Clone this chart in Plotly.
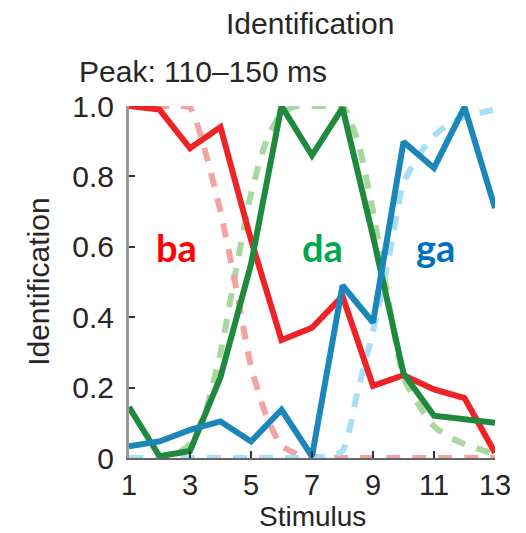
import plotly.graph_objects as go

# Stimulus steps
stimulus = [1, 2, 3, 4, 5, 6, 7, 8, 9, 10, 11, 12, 13]

# Measured identification proportions
ba = [1.0, 0.99, 0.88, 0.94, 0.62, 0.335, 0.37, 0.46, 0.205, 0.235, 0.195, 0.17, 0.015]
da = [0.145, 0.005, 0.02, 0.23, 0.55, 1.0, 0.86, 0.995, 0.63, 0.24, 0.12, 0.11, 0.10]
ga = [0.033, 0.047, 0.08, 0.104, 0.047, 0.137, 0.005, 0.49, 0.385, 0.898, 0.824, 0.997, 0.71]

# Fitted curves (read at half-steps)
fit_x = [1, 1.5, 2, 2.5, 3, 3.5, 4, 4.5, 5, 5.5, 6, 6.5, 7, 7.5, 8, 8.5, 9, 9.5, 10, 10.5, 11, 11.5, 12, 12.5, 13]
fit_ba = [1.0, 1.0, 1.0, 1.0, 0.995, 0.87, 0.70, 0.49, 0.26, 0.12, 0.035, 0.012, 0.004, 0.0, 0.0, 0.0, 0.0, 0.0, 0.0, 0.0, 0.0, 0.0, 0.0, 0.0, 0.0]
fit_da = [0.0, 0.0, 0.0, 0.01, 0.04, 0.13, 0.30, 0.53, 0.75, 0.90, 0.98, 1.0, 1.0, 1.0, 1.0, 0.90, 0.70, 0.45, 0.23, 0.15, 0.09, 0.06, 0.04, 0.025, 0.01]
fit_ga = [0.0, 0.0, 0.0, 0.0, 0.0, 0.0, 0.0, 0.0, 0.0, 0.0, 0.0, 0.0, 0.0, 0.004, 0.02, 0.19, 0.36, 0.56, 0.78, 0.86, 0.915, 0.95, 0.97, 0.98, 0.99]

x_ticks = [1, 3, 5, 7, 9, 11, 13]
y_ticks = [0, 0.2, 0.4, 0.6, 0.8, 1.0]
y_ticktext = ["0", "0.2", "0.4", "0.6", "0.8", "1.0"]

FONT = "Liberation Sans, Arial, Helvetica, sans-serif"
TXT = "#262626"
FS = 30

fig = go.Figure()

dash = "14px,12px"
for ys, col in [(fit_da, "#a8d89e"), (fit_ba, "#f4a3a3"), (fit_ga, "#a8def6")]:
    fig.add_trace(go.Scatter(x=fit_x, y=ys, mode="lines",
                             line=dict(color=col, width=6, dash=dash, shape="spline", smoothing=0.6),
                             cliponaxis=False, hoverinfo="skip", showlegend=False))

for ys, col in [(ba, "#ee2326"), (da, "#1f8a3d"), (ga, "#1b86b9")]:
    fig.add_trace(go.Scatter(x=stimulus, y=ys, mode="lines",
                             line=dict(color=col, width=6),
                             cliponaxis=False, showlegend=False))

# Category labels
for txt, xx, col in [("ba", 2.55, "#ff0000"), ("da", 7.35, "#00a84f"), ("ga", 11.05, "#0070c0")]:
    fig.add_annotation(x=xx, y=0.6, xref="x", yref="y", text="<b>%s</b>" % txt, showarrow=False,
                       font=dict(family="Lato, Noto Sans, sans-serif", size=38, color=col),
                       xanchor="center", yanchor="middle")

fig.add_annotation(x=0.495, y=1.235, xref="paper", yref="paper", text="Identification",
                   showarrow=False, font=dict(family=FONT, size=FS, color=TXT),
                   xanchor="center", yanchor="middle")
fig.add_annotation(x=-0.142, y=1.099, xref="paper", yref="paper", text="Peak: 110\u2013150 ms",
                   showarrow=False, font=dict(family=FONT, size=FS, color=TXT),
                   xanchor="left", yanchor="middle")
fig.add_annotation(x=-0.249, y=0.5, xref="paper", yref="paper", text="Identification",
                   showarrow=False, textangle=-90, font=dict(family=FONT, size=FS, color=TXT),
                   xanchor="center", yanchor="middle")
fig.add_annotation(x=0.5, y=-0.166, xref="paper", yref="paper", text="Stimulus",
                   showarrow=False, font=dict(family=FONT, size=28, color=TXT),
                   xanchor="center", yanchor="middle")

fig.update_layout(
    width=518, height=525,
    margin=dict(l=121, r=31, t=98, b=75),
    paper_bgcolor="white", plot_bgcolor="white",
    font=dict(family=FONT, size=FS, color=TXT),
    xaxis=dict(range=[1, 13], tickvals=x_ticks, ticks="inside", ticklen=7, tickwidth=2,
               tickcolor="#333", showline=True, linecolor="#666", linewidth=2,
               showgrid=False, zeroline=False, ticklabelstandoff=0,
               tickfont=dict(family=FONT, size=29, color=TXT)),
    yaxis=dict(range=[0, 1], tickvals=y_ticks, ticktext=y_ticktext, ticks="inside", ticklen=6,
               tickwidth=2, tickcolor="#333", showline=True, linecolor="#9a9a9a", linewidth=3,
               showgrid=False, zeroline=False, ticklabelstandoff=6,
               tickfont=dict(family=FONT, size=FS, color=TXT)),
)

fig.write_html("out.html")
